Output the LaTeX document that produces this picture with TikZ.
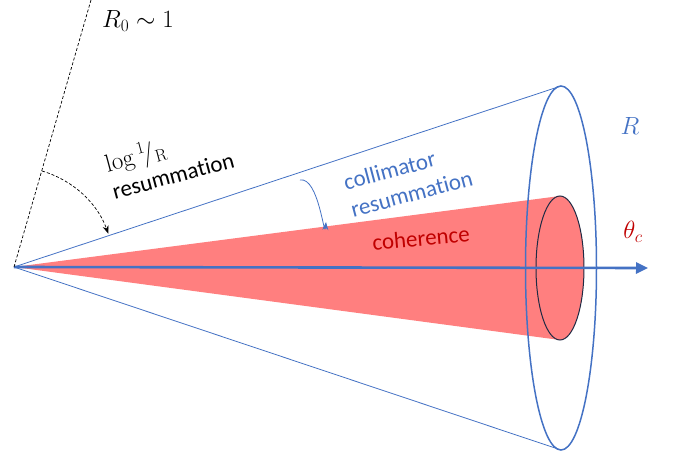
\documentclass[tikz,border=0pt]{standalone}
\usepackage[no-math]{fontspec}
\setmainfont[Ligatures=CommonOff]{Carlito}
\usetikzlibrary{arrows.meta}
\definecolor{cblue}{HTML}{4472C4}
\definecolor{cred}{HTML}{FF7F7F}
\definecolor{dred}{HTML}{C00000}
\definecolor{navy}{HTML}{1F2A44}
\tikzset{
  conel/.style={cblue, line width=0.8pt},
  lbl/.style={font=\fontsize{23}{28}\selectfont, inner sep=0pt},
  mlbl/.style={font=\fontsize{25}{28}\selectfont, inner sep=0pt},
}
\begin{document}
\begin{tikzpicture}[x=1pt,y=-1pt]
\useasboundingbox (0,0) rectangle (673,455);
\coordinate (apex) at (14,267);
\coordinate (otop) at (561,86);
\coordinate (obot) at (561,450);
\coordinate (oc) at (561,268);
\coordinate (itop) at (560,196);
\coordinate (ibot) at (560,340);
\coordinate (ic) at (560,268);
\coordinate (dtop) at (91,0);
\coordinate (aend) at (648,268);
% red coherence cone
\fill[cred] (apex) -- (itop) arc[start angle=90, end angle=-90, x radius=24, y radius=-72] -- cycle;
% outer cone
\draw[conel] (apex) -- (otop);
\draw[conel] (apex) -- (obot);
\draw[cblue, line width=1.5pt] (oc) ellipse[x radius=35.5, y radius=182];
\draw[navy, line width=1pt] (ic) ellipse[x radius=24, y radius=72];
% axis
\draw[cblue, line width=2.6pt, -{Triangle[length=12pt,width=11pt]}] (apex) -- (aend);
% dashed line
\draw[line width=0.7pt, dash pattern=on 3pt off 2pt] (apex) -- (dtop);
\draw[line width=0.7pt, dash pattern=on 3pt off 2pt, -{Stealth[length=8pt,width=6pt]}]
  ([shift={(-73.7:100)}]apex) arc[start angle=-73.7, end angle=-19.5, radius=100];
% blue curved arrow
\coordinate (bs) at (300,180);
\coordinate (be) at (326,222);
\draw[cblue, line width=0.8pt, -{Stealth[length=8pt,width=6pt]}] (bs) to[out=10, in=-95] (be);
% labels
\node[mlbl] (r0) at (138,21) {$R_0\sim 1$};
\node[lbl, rotate=15, align=left] (logl) at (169,160) {$\log{}^{1}\!/_{\mathrm{R}}$\\resummation};
\node[lbl, rotate=15, align=left, text=cblue] (coll) at (408,180) {collimator\\resummation};
\node[lbl, rotate=5, text=dred] (coh) at (421,238) {coherence};
\node[mlbl, text=cblue] (rl) at (630,126) {$R$};
\node[mlbl, text=dred] (tc) at (633,232) {$\theta_c$};
\end{tikzpicture}
\end{document}
